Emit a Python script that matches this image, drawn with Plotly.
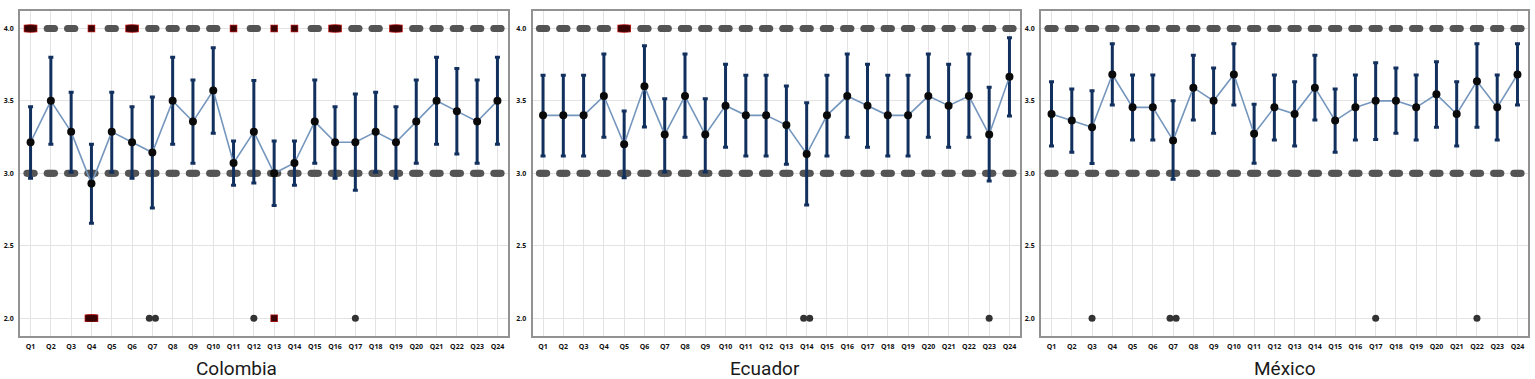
import numpy as np
import plotly.graph_objects as go

questions = [f"Q{i}" for i in range(1, 25)]
countries = ["Colombia", "Ecuador", "México"]

# Means and confidence intervals per question
col_mean = [3.214, 3.5, 3.286, 2.929, 3.286, 3.214, 3.143, 3.5, 3.357, 3.571, 3.071, 3.286,
            3.0, 3.071, 3.357, 3.214, 3.214, 3.286, 3.214, 3.357, 3.5, 3.429, 3.357, 3.5]
col_hi = [3.46, 3.80, 3.56, 3.20, 3.56, 3.46, 3.526, 3.80, 3.644, 3.867, 3.223, 3.64,
          3.223, 3.223, 3.644, 3.46, 3.547, 3.56, 3.46, 3.644, 3.80, 3.724, 3.644, 3.80]
col_lo = [2.966, 3.20, 3.007, 2.655, 3.007, 2.966, 2.76, 3.20, 3.069, 3.276, 2.917, 2.933,
          2.777, 2.917, 3.069, 2.966, 2.883, 3.007, 2.966, 3.069, 3.20, 3.133, 3.069, 3.20]

ecu_mean = [3.4, 3.4, 3.4, 3.533, 3.2, 3.6, 3.267, 3.533, 3.267, 3.467, 3.4, 3.4,
            3.333, 3.133, 3.4, 3.533, 3.467, 3.4, 3.4, 3.533, 3.467, 3.533, 3.267, 3.667]
ecu_hi = [3.676, 3.676, 3.676, 3.823, 3.43, 3.88, 3.515, 3.823, 3.515, 3.752, 3.676, 3.676,
          3.602, 3.487, 3.676, 3.823, 3.752, 3.676, 3.676, 3.823, 3.752, 3.823, 3.593, 3.936]
ecu_lo = [3.12, 3.12, 3.12, 3.248, 2.97, 3.32, 3.009, 3.248, 3.009, 3.18, 3.12, 3.12,
          3.062, 2.781, 3.12, 3.248, 3.18, 3.12, 3.12, 3.248, 3.18, 3.248, 2.947, 3.395]

mex_mean = [3.409, 3.364, 3.318, 3.682, 3.455, 3.455, 3.227, 3.591, 3.5, 3.682, 3.273, 3.455,
            3.409, 3.591, 3.364, 3.455, 3.5, 3.5, 3.455, 3.545, 3.409, 3.636, 3.455, 3.682]
mex_hi = [3.632, 3.582, 3.57, 3.894, 3.678, 3.678, 3.5, 3.814, 3.726, 3.894, 3.476, 3.678,
          3.632, 3.814, 3.582, 3.678, 3.763, 3.726, 3.678, 3.77, 3.632, 3.894, 3.678, 3.894]
mex_lo = [3.189, 3.145, 3.067, 3.471, 3.23, 3.23, 2.959, 3.368, 3.276, 3.471, 3.069, 3.23,
          3.189, 3.368, 3.145, 3.23, 3.234, 3.276, 3.23, 3.317, 3.189, 3.317, 3.23, 3.471]

# Individual responses: levels with many responses (grey clusters)
response_levels = [4.0, 3.0]
# highlighted (red) clusters: (question, level, size) where size 'wide' or 'small'
col_red = [("Q1", 4.0, "wide"), ("Q4", 4.0, "small"), ("Q6", 4.0, "wide"), ("Q11", 4.0, "small"),
           ("Q13", 4.0, "small"), ("Q14", 4.0, "small"), ("Q16", 4.0, "wide"), ("Q19", 4.0, "wide"),
           ("Q4", 2.0, "wide"), ("Q13", 2.0, "small")]
ecu_red = [("Q5", 4.0, "wide")]
mex_red = []
# responses of 2.0 shown as dots: question -> count
col_low = {"Q7": 2, "Q12": 1, "Q17": 1}
ecu_low = {"Q14": 2, "Q23": 1}
mex_low = {"Q3": 1, "Q7": 2, "Q17": 1, "Q22": 1}

panels = [
    (col_mean, col_lo, col_hi, col_red, col_low),
    (ecu_mean, ecu_lo, ecu_hi, ecu_red, ecu_low),
    (mex_mean, mex_lo, mex_hi, mex_red, mex_low),
]

W, H = 1535, 379
x_dom = [(20 / W, 508 / W), (532.5 / W, 1020 / W), (1041 / W, 1528 / W)]
y_dom = (1 - 335.6 / H, 1 - 11 / H)
title_x = [236 / W, 765 / W, 1285 / W]

GREY = "#555555"
PILL_OFF = np.linspace(-0.18, 0.18, 7)
WIDE_OFF = np.linspace(-0.15, 0.15, 5)
qidx = {q: i for i, q in enumerate(questions)}

fig = go.Figure()
for p, (mean, lo, hi, red, low) in enumerate(panels):
    xa = "x" if p == 0 else f"x{p+1}"
    ya = "y" if p == 0 else f"y{p+1}"
    xi = np.arange(len(questions))
    red_keys = {(q, lvl) for q, lvl, _ in red}
    # grey clusters
    px, py = [], []
    for lvl in response_levels:
        for q in questions:
            if (q, lvl) in red_keys:
                continue
            for o in PILL_OFF:
                px.append(qidx[q] + o)
                py.append(lvl)
    fig.add_trace(go.Scatter(x=px, y=py, mode="markers", xaxis=xa, yaxis=ya,
                             marker=dict(color=GREY, size=7, line=dict(width=0)),
                             hoverinfo="skip", showlegend=False))
    # red clusters: outline layer then fill layer
    for layer, (col, sz) in enumerate([("#b81414", 7.5), ("#3a0404", 6)]):
        rx, ry = [], []
        for q, lvl, kind in red:
            offs = WIDE_OFF if kind == "wide" else [0.0]
            for o in offs:
                rx.append(qidx[q] + o)
                ry.append(lvl)
        if rx:
            fig.add_trace(go.Scatter(x=rx, y=ry, mode="markers", xaxis=xa, yaxis=ya,
                                     marker=dict(color=col, size=sz, symbol="square", line=dict(width=0)),
                                     hoverinfo="skip", showlegend=False))
    # low dots
    lx, ly = [], []
    for q, n in low.items():
        offs = [0.0] if n == 1 else list(np.linspace(-0.15, 0.15, n))
        for o in offs:
            lx.append(qidx[q] + o)
            ly.append(2.0)
    fig.add_trace(go.Scatter(x=lx, y=ly, mode="markers", xaxis=xa, yaxis=ya,
                             marker=dict(color="#333333", size=7, line=dict(width=0)),
                             hoverinfo="skip", showlegend=False))
    m = np.array(mean)
    fig.add_trace(go.Scatter(
        x=xi, y=m, mode="lines+markers", xaxis=xa, yaxis=ya,
        line=dict(color="#7596bd", width=1.6),
        marker=dict(color="#0a0a0a", size=8, line=dict(width=0)),
        error_y=dict(type="data", symmetric=False, array=np.array(hi) - m,
                     arrayminus=m - np.array(lo), color="#12305e", thickness=3, width=2.5),
        showlegend=False))
    fig.add_annotation(text=countries[p], x=title_x[p], y=1 - 368 / H, xref="paper", yref="paper",
                       showarrow=False, xanchor="center", yanchor="middle",
                       font=dict(family="Roboto", size=19, color="#1a1a1a"))

layout = dict(width=W, height=H, margin=dict(l=0, r=0, t=0, b=0),
              plot_bgcolor="white", paper_bgcolor="white", showlegend=False)
for p in range(3):
    sx = "" if p == 0 else str(p + 1)
    layout[f"xaxis{sx}"] = dict(domain=list(x_dom[p]), anchor=f"y{sx}", range=[-0.52, 23.52],
                                tickmode="array", tickvals=list(range(24)), ticktext=questions,
                                tickfont=dict(family="Open Sans", size=7, color="#111", weight="bold"),
                                showgrid=True, gridcolor="#e3e3e3", gridwidth=1, zeroline=False,
                                showline=True, linecolor="#929292", linewidth=1.5, mirror=True,
                                ticks="", ticklabelstandoff=3)
    layout[f"yaxis{sx}"] = dict(domain=list(y_dom), anchor=f"x{sx}", range=[1.88, 4.12],
                                tickmode="array", tickvals=[2, 2.5, 3, 3.5, 4],
                                ticktext=["2.0", "2.5", "3.0", "3.5", "4.0"],
                                tickfont=dict(family="Open Sans", size=7, color="#111", weight="bold"),
                                showgrid=True, gridcolor="#e3e3e3", gridwidth=1, zeroline=False,
                                showline=True, linecolor="#929292", linewidth=1.5, mirror=True,
                                ticks="", ticklabelstandoff=3)
fig.update_layout(**layout)
fig.write_html("out.html", config={"displayModeBar": False},
               post_script="document.body.style.margin='0';document.body.style.overflow='hidden';")
